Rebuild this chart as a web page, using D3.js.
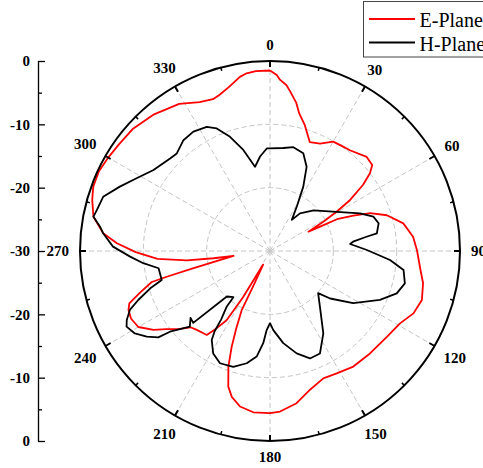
<!DOCTYPE html>
<html>
<head>
<meta charset="utf-8">
<script src="https://cdn.jsdelivr.net/npm/d3@7"></script>
<style>
  html, body { margin: 0; padding: 0; background: #fff; }
  svg { display: block; }
</style>
</head>
<body>
<svg id="chart" width="483" height="468"></svg>
<script>
// ---------------- data ----------------
const seriesNames = ["E-Plane", "H-Plane"];
const seriesColors = ["#ff0000", "#000000"];

const eAngles = [0, 2.2, 3.3, 5.7, 7.2, 10, 12, 15.3, 20.1, 25, 30, 34.3, 38.4, 45.8, 49.9, 52.1, 54.6, 57.5, 59.5, 61.2, 63.3, 64.1, 64.6, 67, 69.3, 73, 78.3, 84.3, 89.6, 96, 101.9, 107.9, 113.5, 119.1, 126.3, 135.7, 144.2, 151.4, 157.3, 163.9, 170.1, 176.4, 180, 185.9, 190.9, 194.7, 197.1, 199.8, 201.8, 203.5, 205.6, 205.5, 206.7, 210.3, 212.1, 214.6, 217, 219, 222.9, 226.2, 229.5, 233, 235.9, 240, 244, 247.4, 249.6, 252.3, 255.3, 256, 257.3, 262.2, 262.7, 263.5, 266, 269.5, 272.9, 276.1, 281, 286, 290, 295, 300, 305, 311.6, 319.7, 328.3, 334.7, 339.4, 342, 346, 350.2, 352.5, 355.5, 360];
const eValues = [-1.5, -2.2, -2.9, -3.7, -4.6, -6.2, -7.8, -9.3, -11.7, -11.3, -10.05, -9.9, -9.7, -8.7, -8.9, -10.0, -12.0, -15.0, -17.8, -20.4, -23.2, -21.2, -18.3, -15.7, -13.1, -10.7, -8.5, -7.3, -6.8, -6.2, -5.3, -4.8, -5.3, -6.5, -7.1, -7.4, -7.5, -8.0, -8.2, -7.2, -5.6, -4.6, -4.4, -4.4, -5.0, -6.2, -7.6, -10.6, -13.7, -16.6, -19.7, -23.8, -27.6, -21.6, -17.1, -15.2, -13.4, -13.3, -13.0, -12.6, -11.0, -9.5, -7.8, -6.0, -5.6, -5.8, -6.3, -8.5, -10.7, -13.2, -17.5, -24.2, -21.0, -16.8, -12.2, -8.8, -5.8, -3.5, -1.6, -0.8, -0.3, -0.2, -0.5, -0.8, -1.0, -1.7, -2.7, -4.0, -4.4, -4.1, -3.3, -2.1, -1.7, -1.5, -1.5];

const hAngles = [0, 7.4, 12.7, 18.8, 23.5, 27.4, 31.1, 35, 38.5, 47.1, 59.5, 67.3, 71.6, 75.7, 80.6, 81.6, 83.6, 85, 89.4, 94.3, 98.1, 103.5, 108.5, 114, 122.1, 128.3, 131.2, 138.1, 147.1, 154, 159.6, 165.4, 171.8, 177.6, 180, 182.4, 184.2, 187.2, 191.7, 197.6, 204, 209, 213.2, 214.6, 215.5, 217.9, 218.4, 223.5, 226.9, 229.9, 226.7, 231.1, 232.3, 235.2, 238.6, 242.2, 244.3, 247.2, 249.6, 252.7, 255, 261.2, 264.5, 267.7, 271.6, 276.1, 278.1, 281, 283.3, 288, 293.2, 298.6, 304.8, 312.8, 316.3, 322, 327.3, 333, 336.5, 340.7, 345.2, 349.9, 354, 358.2, 360];
const hValues = [-13.8, -13.6, -13.2, -13.7, -15.5, -18.6, -21.8, -24.0, -22.4, -20.6, -17.8, -14.6, -12.8, -12.3, -12.9, -14.6, -16.8, -17.3, -14.7, -11.0, -8.7, -8.1, -8.9, -11.0, -14.5, -17.9, -19.9, -18.2, -14.5, -12.0, -11.9, -13.3, -15.3, -17.5, -18.6, -17.5, -15.4, -13.2, -11.9, -10.8, -10.6, -11.5, -13.2, -14.6, -16.7, -18.9, -20.7, -20.1, -13.4, -13.6, -12.6, -9.7, -7.7, -6.3, -5.0, -4.4, -4.9, -6.0, -7.8, -10.2, -12.3, -12.2, -9.9, -7.9, -5.2, -3.5, -2.9, -1.6, -1.9, -2.3, -4.2, -6.0, -7.6, -8.5, -8.7, -7.8, -7.6, -8.0, -8.9, -10.9, -13.5, -16.5, -15.0, -13.8, -13.8];

const angleTicks = [0, 30, 60, 90, 120, 150, 180, 210, 240, 270, 300, 330];
const angleLabels = ["0", "30", "60", "90", "120", "150", "180", "210", "240", "270", "300", "330"];
const minorAngleTicks = [15, 45, 75, 105, 135, 165, 195, 225, 255, 285, 315, 345];
const radialDomain = [-30, 0];
const gridLevels = [-20, -10];
// left axis: position along the diameter (0 = top, 60 = bottom) and labels
const leftTickPos = [0, 10, 20, 30, 40, 50, 60];
const leftTickLabels = ["0", "-10", "-20", "-30", "-20", "-10", "0"];
const leftMinorPos = [5, 15, 25, 35, 45, 55];

// ---------------- layout ----------------
const cx = 270, cy = 251, R = 190;
const font = "'Liberation Serif', 'Times New Roman', serif";
const svg = d3.select("#chart");

const r = d3.scaleLinear().domain(radialDomain).range([0, R]).clamp(true);
const rad = d => d * Math.PI / 180;

const g = svg.append("g").attr("transform", `translate(${cx},${cy})`);

// grid circles
g.selectAll("circle.grid").data(gridLevels).join("circle")
  .attr("r", d => r(d)).attr("fill", "none")
  .attr("stroke", "#c4c4c4").attr("stroke-width", 1).attr("stroke-dasharray", "5,3");

// radial grid lines
g.selectAll("line.spoke").data(angleTicks).join("line")
  .attr("x1", 0).attr("y1", 0)
  .attr("x2", d => R * Math.sin(rad(d))).attr("y2", d => -R * Math.cos(rad(d)))
  .attr("stroke", "#c4c4c4").attr("stroke-width", 1).attr("stroke-dasharray", "5,3");

// series
const line = d3.lineRadial()
  .angle(d => rad(d[0]))
  .radius(d => r(d[1]))
  .curve(d3.curveLinear);

const eData = eAngles.map((a, i) => [a, eValues[i]]);
const hData = hAngles.map((a, i) => [a, hValues[i]]);

g.append("path").datum(eData).attr("d", line)
  .attr("fill", "none").attr("stroke", seriesColors[0]).attr("stroke-width", 1.8)
  .attr("stroke-linejoin", "round");
g.append("path").datum(hData).attr("d", line)
  .attr("fill", "none").attr("stroke", seriesColors[1]).attr("stroke-width", 1.8)
  .attr("stroke-linejoin", "round");

// outer circle
g.append("circle").attr("r", R).attr("fill", "none")
  .attr("stroke", "#000").attr("stroke-width", 2);

// angular ticks (inward)
g.selectAll("line.major").data(angleTicks).join("line")
  .attr("x1", d => R * Math.sin(rad(d))).attr("y1", d => -R * Math.cos(rad(d)))
  .attr("x2", d => (R - 6) * Math.sin(rad(d))).attr("y2", d => -(R - 6) * Math.cos(rad(d)))
  .attr("stroke", "#000").attr("stroke-width", 2);
g.selectAll("line.minor").data(minorAngleTicks).join("line")
  .attr("x1", d => R * Math.sin(rad(d))).attr("y1", d => -R * Math.cos(rad(d)))
  .attr("x2", d => (R - 3.5) * Math.sin(rad(d))).attr("y2", d => -(R - 3.5) * Math.cos(rad(d)))
  .attr("stroke", "#000").attr("stroke-width", 1.5);

// angular labels
const labH = 10.5;
angleTicks.forEach((a, i) => {
  const t = g.append("text")
    .attr("font-family", font).attr("font-weight", "bold").attr("font-size", 15)
    .attr("text-anchor", "middle").text(angleLabels[i]);
  const w = t.node().getComputedTextLength();
  const s = Math.sin(rad(a)), c = Math.cos(rad(a));
  const d = 201 + Math.abs(s) * w / 2 + Math.abs(c) * labH / 2;
  t.attr("x", d * s).attr("y", -d * c + 5);
});

// left linear axis
const yPos = d3.scaleLinear().domain([0, 60]).range([cy - R, cy + R]);
const leftAxis = d3.axisLeft(yPos)
  .tickValues(leftTickPos)
  .tickFormat((d, i) => leftTickLabels[i])
  .tickSizeInner(-7).tickSizeOuter(0).tickPadding(8);
const ga = svg.append("g").attr("transform", "translate(38,0)").call(leftAxis);
ga.selectAll("text").attr("font-family", font).attr("font-weight", "bold")
  .attr("font-size", 15).attr("fill", "#000");
ga.selectAll("line").attr("stroke", "#000").attr("stroke-width", 1.3);
ga.select(".domain").attr("stroke", "#000").attr("stroke-width", 1.3);

const leftMinor = d3.axisLeft(yPos).tickValues(leftMinorPos).tickFormat("")
  .tickSizeInner(-4).tickSizeOuter(0);
const gm = svg.append("g").attr("transform", "translate(38,0)").call(leftMinor);
gm.select(".domain").remove();
gm.selectAll("line").attr("stroke", "#000").attr("stroke-width", 1.3);

// legend
const lg = svg.append("g");
lg.append("rect").attr("x", 363.5).attr("y", 1.5).attr("width", 140).attr("height", 55.5)
  .attr("fill", "#fff").attr("stroke", "#444").attr("stroke-width", 1);
seriesNames.forEach((name, i) => {
  const yy = 19 + i * 23.5;
  lg.append("line").attr("x1", 369).attr("x2", 415).attr("y1", yy).attr("y2", yy)
    .attr("stroke", seriesColors[i]).attr("stroke-width", 2);
  lg.append("text").attr("x", 419.5).attr("y", yy + 8)
    .attr("font-family", font).attr("font-size", 20).attr("fill", "#000").text(name);
});
</script>
</body>
</html>
